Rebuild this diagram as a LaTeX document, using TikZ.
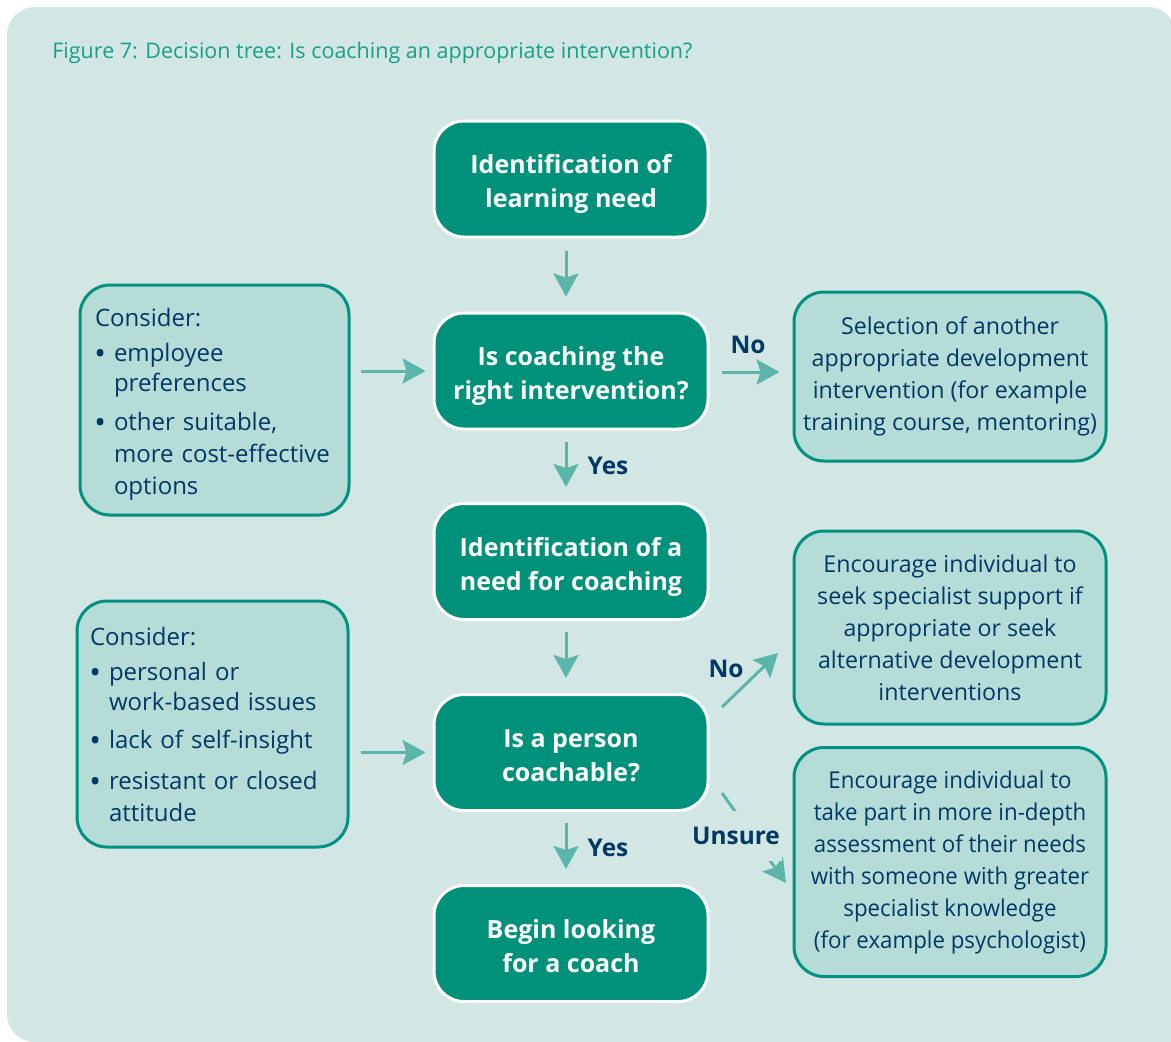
\documentclass[tikz,border=0pt]{standalone}
\usepackage{fontspec}
\setmainfont{Open Sans}
\newfontfamily\narrowfont[FakeStretch=0.96]{Open Sans}
\usetikzlibrary{arrows.meta,calc}
\definecolor{bgc}{HTML}{D2E6E3}
\definecolor{mainc}{HTML}{00917B}
\definecolor{sidec}{HTML}{B6DCD8}
\definecolor{sidebd}{HTML}{009180}
\definecolor{navy}{HTML}{003866}
\definecolor{arrc}{HTML}{5BB6A9}
\definecolor{titlec}{HTML}{17A087}
\newcommand{\bigbul}{\raisebox{-1.6pt}{\fontsize{15.5}{15.5}\selectfont\textbullet}}
\newcommand{\bitem}[1]{\makebox[9.5pt][l]{\hspace*{-0.3pt}\bigbul}#1}
\newcommand{\bcont}[1]{\hspace*{9.5pt}#1}
\begin{document}
\begin{tikzpicture}[x=0.5pt,y=-0.5pt,
  mainbox/.style={fill=mainc, draw=white, line width=1.5pt, rounded corners=15pt,
    minimum width=137pt, minimum height=58pt, text=white, align=center, inner sep=0pt,
    text height=31.5pt, text depth=3pt,
    font=\bfseries\fontsize{12.5}{17}\selectfont},
  sidebox/.style={fill=sidec, draw=sidebd, line width=1.5pt, rounded corners=15pt,
    text=navy, inner sep=0pt, font=\fontsize{11.6}{16}\selectfont},
  arr/.style={draw=arrc, line width=1.5pt, -{Stealth[length=11.5pt,width=12.5pt,inset=2pt]}},
  lbl/.style={text=navy, inner sep=1pt, font=\bfseries\fontsize{12.2}{14}\selectfont}]
\useasboundingbox (0,0) rectangle (1171,1041);
\fill[white] (0,0) rectangle (1171,1041);
\fill[bgc] (1190,1060) [rounded corners=14pt] -- (1176,1060) -- (1176,7) -- (7,7) -- (7,1042) [sharp corners] -- (1190,1042) -- cycle;

\node[anchor=west, text=titlec, inner sep=0pt, font=\fontsize{10.75}{13}\selectfont] (title) at (52,52.5)
  {Figure 7: Decision tree: Is coaching an appropriate intervention?};

% main column
\node[mainbox] (b1) at (571,179) {Identification of\\learning need};
\node[mainbox] (b2) at (571,371) {Is coaching the\\right intervention?};
\node[mainbox] (b3) at (571,561.5) {Identification of a\\need for coaching};
\node[mainbox] (b4) at (571,752.5) {Is a person\\coachable?};
\node[mainbox] (b5) at (571,943.5) {Begin looking\\for a coach};

% left boxes
\node[sidebox, minimum width=134.5pt, minimum height=115pt, text width=119.5pt,
  align=left, text height=13.5pt, font=\fontsize{12}{15}\selectfont] (l1) at (214.5,400)
  {Consider:\\[2.5pt]
   \bitem{employee}\\
   \bcont{preferences}\\[4.5pt]
   \bitem{other suitable,}\\[1pt]
   \bcont{more cost-effective}\\[1pt]
   \bcont{options}};
\node[sidebox, minimum width=135.5pt, minimum height=123pt, text width=122.5pt,
  align=left, font=\fontsize{12}{15}\selectfont] (l2) at (212.5,724)
  {Consider:\\[2.5pt]
   \bitem{personal or}\\
   \bcont{work-based issues}\\[4pt]
   \bitem{lack of self-insight}\\[5.5pt]
   \bitem{resistant or closed}\\[1pt]
   \bcont{attitude}};

% right boxes
\node[sidebox, minimum width=156pt, minimum height=84.5pt, align=center] (r1) at (950,376.5)
  {Selection of another\\appropriate development\\intervention (for example\\training course, mentoring)};
\node[sidebox, minimum width=156pt, minimum height=96.5pt, align=center] (r2) at (950,627.5)
  {Encourage individual to\\seek specialist support if\\appropriate or seek\\alternative development\\interventions};
\node[sidebox, minimum width=156pt, minimum height=114.5pt, align=center,
  font=\narrowfont\fontsize{11.6}{16}\selectfont] (r3) at (950,862)
  {Encourage individual to\\take part in more in-depth\\assessment of their needs\\with someone with greater\\specialist knowledge\\(for example psychologist)};

% vertical arrows
\draw[arr, shorten <=6pt, shorten >=7.5pt] ([xshift=-2.5pt]b1.south) -- ([xshift=-2.5pt]b2.north);
\draw[arr, shorten <=5.5pt, shorten >=7.5pt] ([xshift=-2.5pt]b2.south) -- ([xshift=-2.5pt]b3.north);
\draw[arr, shorten <=5.5pt, shorten >=7.5pt] ([xshift=-2.5pt]b3.south) -- ([xshift=-2.5pt]b4.north);
\draw[arr, shorten <=5.5pt, shorten >=7.5pt] ([xshift=-2.5pt]b4.south) -- ([xshift=-2.5pt]b5.north);
\node[lbl] (yes1) at (608,466) {Yes};
\node[lbl] (yes2) at (608,848) {Yes};

% left arrows
\draw[arr, shorten <=5pt, shorten >=3.5pt] (b2.west -| l1.east) -- (b2.west);
\draw[arr, shorten <=5.5pt, shorten >=3.5pt] (b4.west -| l2.east) -- (b4.west);

% No (top)
\draw[arr, shorten <=6pt, shorten >=6.5pt] ([yshift=-0.5pt]b2.east) -- ([yshift=-0.5pt]b2.east -| r1.west);
\node[lbl] (no1) at (748,345) {No};

% No (diagonal)
\coordinate (noS) at (722,707);
\coordinate (noE) at (778,653);
\draw[arr] (noS) -- (noE);
\node[lbl] (no2) at (726,669) {No};

% Unsure
\coordinate (unS) at (722,793);
\coordinate (unE) at (786,883);
\draw[arr] (unS) -- (unE);
\node[lbl, fill=bgc, inner xsep=1pt, inner ysep=8pt] (uns) at (736,836) {Unsure};
\end{tikzpicture}
\end{document}
